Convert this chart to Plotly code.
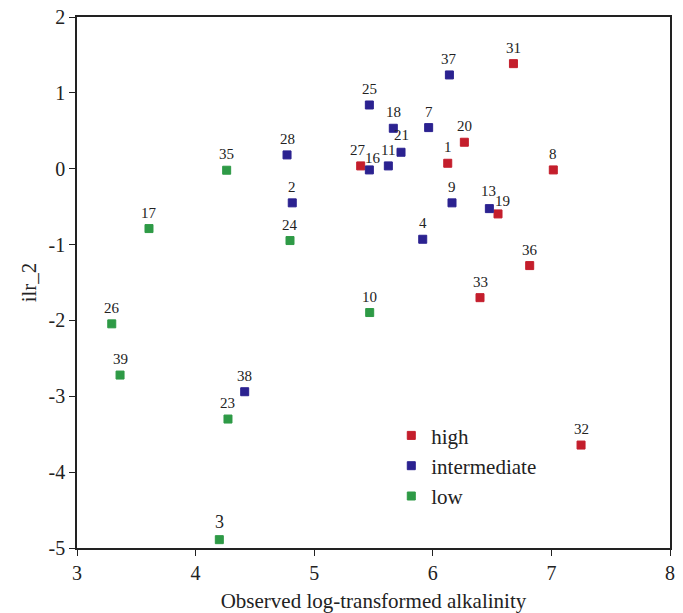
import plotly.graph_objects as go

# high group
high_ids = ["31", "20", "27", "1", "8", "19", "36", "33", "32"]
high_x = [6.68, 6.266, 5.392, 6.126, 7.016, 6.55, 6.817, 6.398, 7.25]
high_y = [1.385, 0.349, 0.037, 0.072, -0.016, -0.596, -1.277, -1.70, -3.643]

# intermediate group
inter_ids = ["37", "25", "18", "7", "21", "11", "16", "9", "13", "4", "28", "2", "38"]
inter_x = [6.14, 5.465, 5.667, 5.965, 5.732, 5.625, 5.465, 6.162, 6.477, 5.915, 4.771, 4.815, 4.414]
inter_y = [1.236, 0.84, 0.533, 0.542, 0.217, 0.037, -0.016, -0.45, -0.526, -0.93, 0.182, -0.45, -2.94]

# low group
low_ids = ["35", "24", "17", "10", "26", "39", "23", "3"]
low_x = [4.262, 4.796, 3.607, 5.468, 3.293, 3.363, 4.273, 4.2]
low_y = [-0.02, -0.947, -0.789, -1.896, -2.045, -2.72, -3.30, -4.89]

x_ticks = [3, 4, 5, 6, 7, 8]
y_ticks = [2, 1, 0, -1, -2, -3, -4, -5]
y_tick_labels = ["2", "1", "0", "-1", "-2", "-3", "-4", "-5"]

FONT = "Liberation Serif"

# label placement tweaks (pixel shifts) for crowded labels
label_shift = {"27": (-3, 16), "16": (4, 12), "13": (-1, 18), "19": (4, 13), "21": (0, 17)}
label_size = {"3": 18}

groups = [
    ("high", high_ids, high_x, high_y, "#c41e2c"),
    ("intermediate", inter_ids, inter_x, inter_y, "#2b2290"),
    ("low", low_ids, low_x, low_y, "#2e9a46"),
]

fig = go.Figure()
annotations = []
for name, ids, xs, ys, col in groups:
    fig.add_trace(go.Scatter(
        x=xs, y=ys, mode="markers", name=name,
        marker=dict(symbol="square", size=8, color=col,
                    line=dict(color=col, width=1)),
    ))
    for t, xv, yv in zip(ids, xs, ys):
        dx, dy = label_shift.get(t, (0, 16))
        sz = label_size.get(t, 15)
        if t == "3":
            dy = 18
        annotations.append(dict(
            x=xv, y=yv, xref="x", yref="y", text=t, showarrow=False,
            xanchor="center", yanchor="middle", xshift=dx, yshift=dy,
            font=dict(family=FONT, size=sz, color="#222222"),
        ))

fig.update_layout(
    width=675, height=605,
    margin=dict(l=69, r=13, t=9, b=65, autoexpand=False),
    paper_bgcolor="white", plot_bgcolor="white",
    font=dict(family=FONT, size=20, color="#222222"),
    showlegend=True,
    annotations=annotations,
    legend=dict(x=0.53, y=0.25, xanchor="left", yanchor="top",
                bgcolor="rgba(0,0,0,0)", font=dict(family=FONT, size=21),
                itemwidth=30, tracegroupgap=0),
    xaxis=dict(range=[3, 8], tickvals=x_ticks, showgrid=False, zeroline=False,
               automargin=False, ticklabeloverflow="allow",
               showline=True, mirror=True, linecolor="#222222", linewidth=1.5,
               ticks="outside", ticklen=6, tickcolor="#222222",
               tickfont=dict(family=FONT, size=20),
               title=dict(text="Observed log-transformed alkalinity",
                          font=dict(family=FONT, size=21), standoff=14)),
    yaxis=dict(range=[-5, 2], tickvals=y_ticks, ticktext=y_tick_labels,
               showgrid=False, zeroline=False, automargin=False,
               ticklabeloverflow="allow",
               showline=True, mirror=True, linecolor="#222222", linewidth=1.5,
               ticks="outside", ticklen=6, tickcolor="#222222",
               tickfont=dict(family=FONT, size=20),
               title=dict(text="ilr_2", font=dict(family=FONT, size=21), standoff=6)),
)

fig.write_html("out.html")
